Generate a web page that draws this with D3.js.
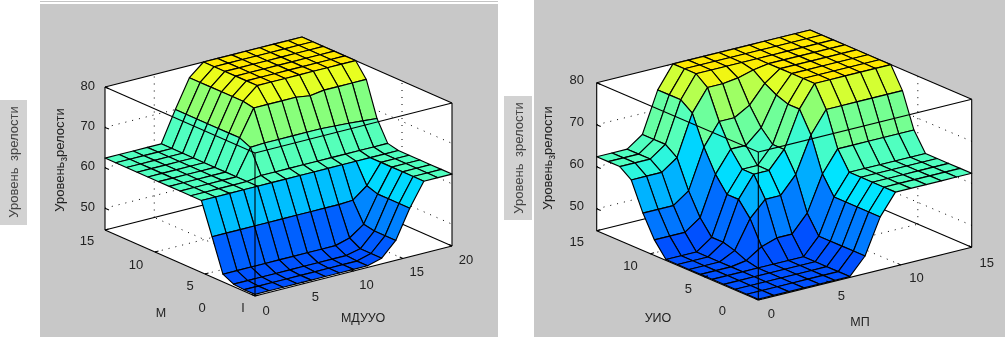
<!DOCTYPE html>
<html>
<head>
<meta charset="utf-8">
<title>Уровень зрелости</title>
<script src="https://d3js.org/d3.v7.min.js"></script>
<style>
body { margin: 0; background: #fff; }
svg { display: block; filter: blur(0.35px); }
text { font-family: 'Liberation Sans', sans-serif; fill: #222; }
.grid { stroke: #000; stroke-width: 1; stroke-dasharray: 1 6; fill: none; }
.box { stroke: #000; stroke-width: 1.1; fill: none; }
.cell { stroke: #000; stroke-width: 1.15; stroke-linejoin: round; }
</style>
</head>
<body>
<script>
// grid of the surface, 15 points on each side
var gridX20 = [0,1.43,2.86,4.29,5.71,7.14,8.57,10,11.43,12.86,14.29,15.71,17.14,18.57,20]
var gridX15 = [0,1.07,2.14,3.21,4.29,5.36,6.43,7.5,8.57,9.64,10.71,11.79,12.86,13.93,15]
var gridY15 = gridX15

// left surface, rows go with the y axis (front to back)
var surfaceLeft = [
  [45,45,45,45,45,45,45,45,45,46,49.5,56.6,62.4,62.4,62.4],
  [45,45,45,45,45,45,45,45,45,46,49.5,56.6,62.4,62.4,62.4],
  [45.2,45.2,45.2,45.2,45.2,45.2,45.2,45.2,45.2,46,49.5,56.6,62.4,62.4,62.4],
  [46.5,46.5,46.5,46.5,46.5,46.5,46.5,46.5,46.5,47.5,50,56.6,62.4,62.4,62.4],
  [54.6,54.6,54.6,54.6,54.6,54.6,54.6,54.6,54.6,54.6,54.8,57.5,62.4,62.4,62.4],
  [62.4,62.4,62.4,62.4,62.4,62.4,62.4,62.4,62.4,62.4,62.4,62.4,62.4,62.4,62.4],
  [62.4,62.4,62.4,62.4,62.4,63,63,63,63,63,63,63,63,63,63],
  [62.4,62.4,62.4,62.4,62.4,68.8,69,69,69,69,69,68.8,68.6,68.3,68],
  [62.4,62.4,62.4,62.4,62.4,70,76.5,76.5,76.5,76.5,76,76.5,76.5,76.5,76.5],
  [62.4,62.4,62.4,62.4,62.4,70,77,80,80,80,80,80,80,80,80],
  [62.4,62.4,62.4,62.4,62.4,70,77,80,80,80,80,80,80,80,80],
  [62.4,62.4,62.4,62.4,62.4,70,77,80,80,80,80,80,80,80,80],
  [62.4,62.4,62.4,62.4,62.4,70,77,80,80,80,80,80,80,80,80],
  [62.4,62.4,62.4,62.4,62.4,70,77,80,80,80,80,80,80,80,80],
  [62.4,62.4,62.4,62.4,62.4,70,77,80,80,80,80,80,80,80,80]
]

// right surface
var surfaceRight = [
  [45,45,45,45,45,45,45,49,57.4,62.4,62.4,62.4,62.4,62.4,62.4],
  [45,45,45,45,45,45,45,49,57.4,62.4,62.4,62.4,62.4,62.4,62.4],
  [45,45,45,45,45,45,45,49,57.4,62.4,62.4,62.4,62.4,62.4,62.4],
  [45,45,45,45,45,45,45,49,57.4,62.4,62.4,62.4,62.4,62.4,62.4],
  [45,45,45,45,45,45,45,49,57.4,62.4,62.4,62.4,62.4,62.4,62.4],
  [45,45,45,45.6,48,49.2,49.2,53.3,61.7,66.8,66.8,66.8,66.8,66.8,66.8],
  [45,45,45,46.8,53.5,57.2,57.2,61.3,69.8,75,75,75,75,75,75],
  [45,45,45,47.6,56.9,62,62,66.1,74.8,80,80,80,80,80,80],
  [45,45,45,47.6,56.9,62,62,66.1,74.8,80,80,80,80,80,80],
  [48.5,48.5,48.5,51.1,60.5,65.6,65.6,68.9,75.8,80,80,80,80,80,80],
  [53.7,53.7,53.7,56.3,65.8,71,71,73.1,77.4,80,80,80,80,80,80],
  [60.4,60.4,60.4,63,72.7,77.9,77.9,78.4,79.4,80,80,80,80,80,80],
  [62.4,62.4,62.4,65,74.7,80,80,80,80,80,80,80,80,80,80],
  [62.4,62.4,62.4,65,74.7,80,80,80,80,80,80,80,80,80,80],
  [62.4,62.4,62.4,65,74.7,80,80,80,80,80,80,80,80,80,80]
]

var zTicks = [50, 60, 70, 80]
var yTicks = [0, 5, 10, 15]
var xTicksLeft = [0, 5, 10, 15, 20]
var xTicksRight = [0, 5, 10, 15]

var svg = d3.select('body').append('svg')
  .attr('width', 1005)
  .attr('height', 337)

// panels
svg.append('rect').attr('x', 40).attr('y', 1).attr('width', 458).attr('height', 1).attr('fill', '#c4c4c4')
svg.append('rect').attr('x', 40).attr('y', 4).attr('width', 458).attr('height', 333).attr('fill', '#c8c8c8')
svg.append('rect').attr('x', 534).attr('y', 0).attr('width', 471).attr('height', 337).attr('fill', '#c8c8c8')
svg.append('rect').attr('x', 0).attr('y', 100).attr('width', 27).attr('height', 125).attr('fill', '#d2d2d2')
svg.append('rect').attr('x', 504).attr('y', 96).attr('width', 28).attr('height', 124).attr('fill', '#d2d2d2')

// outer labels
function sideLabel(x, y, txt) {
  svg.append('text')
    .attr('transform', 'translate(' + x + ',' + y + ') rotate(-90)')
    .attr('text-anchor', 'middle')
    .attr('font-size', 13)
    .attr('word-spacing', 3)
    .style('fill', '#444')
    .text(txt)
}
sideLabel(18, 162, 'Уровень зрелости')
sideLabel(523, 158, 'Уровень зрелости')

// jet colours, cut off at yellow
var color = d3.scaleLinear()
  .domain([45, 52, 58, 62.4, 70, 76.5, 80])
  .range(['#0050ff', '#009cff', '#00ecff', '#50ffc0', '#90ff70', '#e8ff20', '#ffe800'])
  .clamp(true)

var line = d3.line()

function drawPlot(opt) {
  var g = svg.append('g')
  var sx = d3.scaleLinear().domain([0, opt.xMax]).range([0, 1])
  var sy = d3.scaleLinear().domain([0, opt.yMax]).range([0, 1])
  var sz = d3.scaleLinear().domain([opt.zMin, 80]).range([0, 1])

  function project(x, y, z) {
    return [
      opt.o[0] + opt.ex[0] * sx(x) + opt.ey[0] * sy(y),
      opt.o[1] + opt.ex[1] * sx(x) + opt.ey[1] * sy(y) + opt.ez * sz(z)
    ]
  }
  function seg(a, b, cls) {
    g.append('path').attr('class', cls).attr('d', line([a, b]))
  }
  var xM = opt.xMax, yM = opt.yMax, z0 = opt.zMin

  // white walls and floor
  var faces = [
    [[0,0,z0],[xM,0,z0],[xM,yM,z0],[0,yM,z0]],
    [[0,yM,z0],[xM,yM,z0],[xM,yM,80],[0,yM,80]],
    [[xM,0,z0],[xM,yM,z0],[xM,yM,80],[xM,0,80]]
  ]
  faces.forEach(function (f) {
    g.append('path').attr('fill', '#fff')
      .attr('d', line(f.map(function (p) { return project(p[0], p[1], p[2]) })) + 'Z')
  })

  // dotted grid
  opt.xTicks.slice(1, -1).forEach(function (t) {
    seg(project(t, 0, z0), project(t, yM, z0), 'grid')
    seg(project(t, yM, z0), project(t, yM, 80), 'grid')
  })
  opt.yTicks.slice(1, -1).forEach(function (t) {
    seg(project(0, t, z0), project(xM, t, z0), 'grid')
    seg(project(xM, t, z0), project(xM, t, 80), 'grid')
  })
  zTicks.slice(0, -1).forEach(function (t) {
    seg(project(0, yM, t), project(xM, yM, t), 'grid')
    seg(project(xM, yM, t), project(xM, 0, t), 'grid')
  })

  // back of the box
  seg(project(0, yM, z0), project(xM, yM, z0), 'box')
  seg(project(xM, yM, z0), project(xM, 0, z0), 'box')
  seg(project(0, yM, 80), project(xM, yM, 80), 'box')
  seg(project(xM, yM, 80), project(xM, 0, 80), 'box')
  seg(project(xM, yM, z0), project(xM, yM, 80), 'box')
  seg(project(0, yM, z0), project(0, yM, 80), 'box')
  seg(project(xM, 0, z0), project(xM, 0, 80), 'box')

  // surface cells, back to front
  var cells = []
  for (var i = 13; i >= 0; i--) {
    for (var j = 13; j >= 0; j--) {
      cells.push({ i: i, j: j })
    }
  }
  g.selectAll('.cell').data(cells).enter().append('path')
    .attr('class', 'cell')
    .attr('fill', function (d) { return color(opt.z[d.j][d.i]) })
    .attr('d', function (d) {
      var corners = [[d.i, d.j], [d.i + 1, d.j], [d.i + 1, d.j + 1], [d.i, d.j + 1]]
      return line(corners.map(function (c) {
        return project(opt.gridX[c[0]], opt.gridY[c[1]], opt.z[c[1]][c[0]])
      })) + 'Z'
    })

  // front of the box goes over the surface
  seg(project(0, 0, z0), project(0, 0, 80), 'box')
  seg(project(0, yM, 80), project(0, 0, 80), 'box')
  seg(project(0, 0, 80), project(xM, 0, 80), 'box')
  seg(project(0, yM, z0), project(0, 0, z0), 'box')
  seg(project(0, 0, z0), project(xM, 0, z0), 'box')

  // ticks and labels
  zTicks.forEach(function (t) {
    var p = project(0, yM, t)
    seg(p, [p[0] + 4, p[1] + 1.7], 'box')
    g.append('text').attr('x', opt.zLabelX).attr('y', p[1] - opt.zLift + 4.5)
      .attr('text-anchor', 'end').attr('font-size', 13).text(t)
  })
  opt.yTicks.forEach(function (t, k) {
    var p = project(0, t, z0)
    seg(p, [p[0] + 3.5, p[1] - 1], 'box')
    g.append('text').attr('x', p[0] + opt.yOff[k][0]).attr('y', p[1] + opt.yOff[k][1] + 4.5)
      .attr('text-anchor', 'middle').attr('font-size', 13).text(t)
  })
  opt.xTicks.forEach(function (t, k) {
    var p = project(t, 0, z0)
    seg(p, [p[0] - 3, p[1] - 1.5], 'box')
    g.append('text').attr('x', p[0] + opt.xOff[k][0]).attr('y', p[1] + opt.xOff[k][1] + 4.5)
      .attr('text-anchor', 'middle').attr('font-size', 13).text(t)
  })

  opt.labels.forEach(function (l) {
    g.append('text').attr('x', l[0]).attr('y', l[1])
      .attr('text-anchor', 'middle').attr('font-size', 12.5).text(l[2])
  })

  // z label, the underscore makes the first letter a subscript
  var zl = g.append('text')
    .attr('transform', 'translate(' + opt.zTitle[0] + ',' + opt.zTitle[1] + ') rotate(-90)')
    .attr('text-anchor', 'middle')
    .attr('font-size', 13)
  zl.append('tspan').text('Уровень')
  zl.append('tspan').attr('dy', 3).attr('font-size', 10).text('з')
  zl.append('tspan').attr('dy', -3).text('релости')
}

drawPlot({
  o: [255, 296], ex: [197, -50], ey: [-150, -66], ez: -143,
  xMax: 20, yMax: 15, zMin: 44.6,
  gridX: gridX20, gridY: gridY15, z: surfaceLeft,
  xTicks: xTicksLeft, yTicks: yTicks,
  zLabelX: 95, zLift: 2,
  yOff: [[-53, 11], [-15, 11], [-19, 12], [-18, 10]],
  xOff: [[11, 14], [11, 12.5], [13, 13], [14, 13], [14, 13]],
  labels: [[161, 317, 'М'], [243, 312, 'I'], [363, 322, 'МДУУО']],
  zTitle: [64, 160]
})

drawPlot({
  o: [758.3, 300], ex: [213.4, -52.7], ey: [-161.6, -69.3], ez: -148,
  xMax: 15, yMax: 15, zMin: 44.8,
  gridX: gridX15, gridY: gridY15, z: surfaceRight,
  xTicks: xTicksRight, yTicks: yTicks,
  zLabelX: 584, zLift: 3,
  yOff: [[-36, 10], [-16, 12], [-20, 12], [-20, 11]],
  xOff: [[13, 13], [12, 13], [16, 13], [15, 15]],
  labels: [[658, 322, 'УИО'], [860, 326, 'МП']],
  zTitle: [552, 158]
})
</script>
</body>
</html>
